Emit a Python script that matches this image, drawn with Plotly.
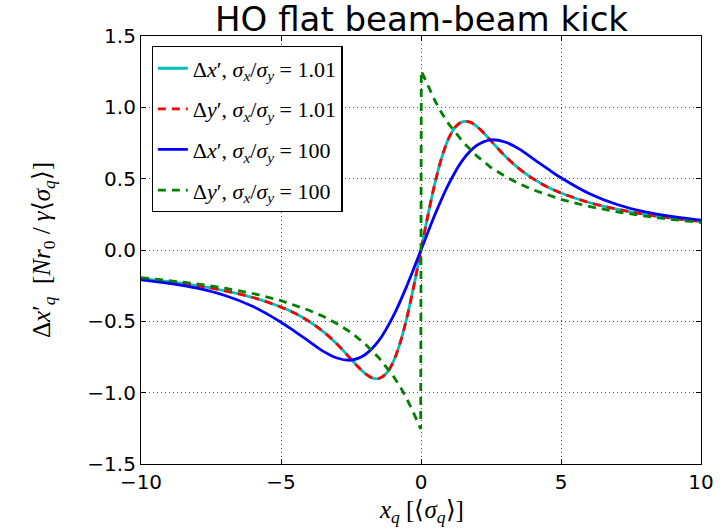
import plotly.graph_objects as go

# Normalised beam-beam kick vs. transverse offset (in units of <sigma_q>)

# Round-ish beam, sigma_x / sigma_y = 1.01
x_round = [-10, -9, -8, -7, -6, -5, -4.5, -4, -3.5, -3, -2.5, -2.25, -2, -1.75, -1.5,
           -1.25, -1, -0.75, -0.5, -0.25, 0, 0.25, 0.5, 0.75, 1, 1.25, 1.5, 1.75, 2,
           2.25, 2.5, 3, 3.5, 4, 4.5, 5, 6, 7, 8, 9, 10]
dxp_round = [-0.200, -0.222, -0.250, -0.286, -0.333, -0.400, -0.444, -0.500, -0.570,
             -0.659, -0.765, -0.818, -0.865, -0.896, -0.900, -0.868, -0.787, -0.654,
             -0.470, -0.246, 0.0, 0.246, 0.470, 0.654, 0.787, 0.868, 0.900, 0.896,
             0.865, 0.818, 0.765, 0.659, 0.570, 0.500, 0.444, 0.400, 0.333, 0.286,
             0.250, 0.222, 0.200]
dyp_round = [-0.200, -0.222, -0.250, -0.286, -0.333, -0.400, -0.444, -0.500, -0.570,
             -0.659, -0.765, -0.818, -0.865, -0.896, -0.900, -0.868, -0.787, -0.654,
             -0.470, -0.246, 0.0, 0.246, 0.470, 0.654, 0.787, 0.868, 0.900, 0.896,
             0.865, 0.818, 0.765, 0.659, 0.570, 0.500, 0.444, 0.400, 0.333, 0.286,
             0.250, 0.222, 0.200]

# Flat beam, sigma_x / sigma_y = 100 : horizontal kick
x_flat = [-10, -9, -8, -7, -6, -5, -4.5, -4, -3.5, -3, -2.5, -2, -1.5, -1, -0.5, 0,
          0.5, 1, 1.5, 2, 2.5, 3, 3.5, 4, 4.5, 5, 6, 7, 8, 9, 10]
dxp_flat = [-0.209, -0.234, -0.268, -0.319, -0.396, -0.506, -0.572, -0.640, -0.709,
            -0.757, -0.772, -0.734, -0.634, -0.467, -0.249, 0.0, 0.249, 0.467, 0.634,
            0.734, 0.772, 0.757, 0.709, 0.640, 0.572, 0.506, 0.396, 0.319, 0.268,
            0.234, 0.209]

# Flat beam, sigma_x / sigma_y = 100 : vertical kick (jumps across the sheet)
y_flat = [-10, -9, -8, -7, -6, -5, -4, -3.5, -3, -2.5, -2, -1.5, -1, -0.75, -0.5,
          -0.25, -0.01, 0.01, 0.25, 0.5, 0.75, 1, 1.5, 2, 2.5, 3, 3.5, 4, 5, 6, 7,
          8, 9, 10]
dyp_flat = [-0.193, -0.213, -0.237, -0.268, -0.305, -0.355, -0.422, -0.465, -0.517,
            -0.578, -0.658, -0.757, -0.881, -0.956, -1.046, -1.148, -1.255, 1.255,
            1.148, 1.046, 0.956, 0.881, 0.757, 0.658, 0.578, 0.517, 0.465, 0.422,
            0.355, 0.305, 0.268, 0.237, 0.213, 0.193]

x_ticks = [-10, -5, 0, 5, 10]
y_ticks = [-1.5, -1.0, -0.5, 0.0, 0.5, 1.0, 1.5]

LW = 2.8
DASH = "8px,6px"
MATH = "Liberation Serif"

fig = go.Figure()
fig.add_trace(go.Scatter(
    x=x_round, y=dxp_round, mode="lines", line_shape="spline",
    line=dict(color="#00BFBF", width=LW), legendgroup="a",
    name="Δ<i>x</i>′, <i>σ<sub>x</sub></i>/<i>σ<sub>y</sub></i> = 1.01"))
fig.add_trace(go.Scatter(
    x=x_round, y=dyp_round, mode="lines", line_shape="spline",
    line=dict(color="#FF0000", width=LW, dash=DASH), legendgroup="b",
    name="Δ<i>y</i>′, <i>σ<sub>x</sub></i>/<i>σ<sub>y</sub></i> = 1.01"))
fig.add_trace(go.Scatter(
    x=x_flat, y=dxp_flat, mode="lines", line_shape="spline",
    line=dict(color="#0000FF", width=LW), legendgroup="c",
    name="Δ<i>x</i>′, <i>σ<sub>x</sub></i>/<i>σ<sub>y</sub></i> = 100"))
fig.add_trace(go.Scatter(
    x=y_flat, y=dyp_flat, mode="lines",
    line=dict(color="#008000", width=LW, dash=DASH), legendgroup="d",
    name="Δ<i>y</i>′, <i>σ<sub>x</sub></i>/<i>σ<sub>y</sub></i> = 100"))

axis_common = dict(
    showline=True, linecolor="black", linewidth=1.2, mirror="ticks",
    ticks="inside", ticklen=5, tickwidth=1, tickcolor="black",
    showgrid=True, gridcolor="#555555", gridwidth=0.8, griddash="1px,3px",
    zeroline=False,
    tickfont=dict(family="DejaVu Sans", size=20, color="black"),
)

fig.update_layout(
    width=726, height=530,
    margin=dict(l=141, r=14, t=36, b=66),
    paper_bgcolor="white", plot_bgcolor="white",
    showlegend=True,
    legend=dict(
        x=0.019, y=0.976, xanchor="left", yanchor="top",
        bgcolor="white", bordercolor="black", borderwidth=1.2,
        font=dict(family=MATH, size=22, color="black"),
        itemwidth=30, tracegroupgap=9,
    ),
    xaxis=dict(range=[-10, 10], tickvals=x_ticks,
               ticktext=[f"{v}".replace("-", "−") for v in x_ticks], **axis_common),
    yaxis=dict(range=[-1.5, 1.5], tickvals=y_ticks,
               ticktext=[f"{v:.1f}".replace("-", "−") for v in y_ticks], **axis_common),
)

fig.add_annotation(
    text="HO flat beam-beam kick", xref="paper", yref="paper",
    x=0.5, y=1.0, yshift=17, xanchor="center", yanchor="middle", showarrow=False,
    font=dict(family="DejaVu Sans", size=34, color="black"))

fig.add_annotation(
    text="<i>x<sub>q</sub></i> [⟨<i>σ<sub>q</sub></i>⟩]", xref="paper", yref="paper",
    x=0.5, y=0.0, yshift=-47, xanchor="center", yanchor="middle", showarrow=False,
    font=dict(family=MATH, size=25, color="black"))

fig.add_annotation(
    text="Δ<i>x</i>′<sub><i>q</i></sub>  [<i>Nr</i><sub>0</sub> / <i>γ</i>⟨<i>σ<sub>q</sub></i>⟩]",
    xref="paper", yref="paper", x=0.0, xshift=-98, y=0.5, xanchor="center",
    yanchor="middle", textangle=-90, showarrow=False,
    font=dict(family=MATH, size=25, color="black"))

fig.write_html("out.html")
